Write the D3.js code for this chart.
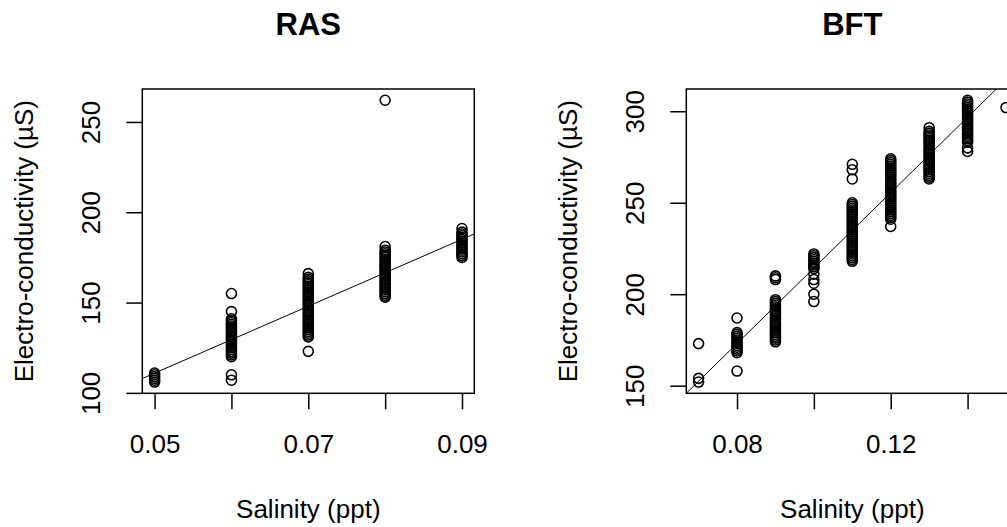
<!DOCTYPE html>
<html>
<head>
<meta charset="utf-8">
<script src="https://cdn.jsdelivr.net/npm/d3@7"></script>
<style>
  body { margin: 0; background: #fff; }
  svg { display: block; font-family: "Liberation Sans", Arial, sans-serif; }
</style>
</head>
<body>
<svg id="chart" width="1007" height="527"></svg>
<script>
// RAS: salinity levels and the EC readings taken at each one
const rasSalinity = [0.05, 0.06, 0.07, 0.08, 0.09];
const rasEC = [
  [106, 107, 108, 109, 110, 111],
  [107, 110, 120, 121, 122, 123, 124, 125, 126, 127, 128, 129, 130, 131, 132, 133, 134, 135,
   136, 137, 138, 139, 140, 141, 145, 155],
  [123, 131, 132, 133, 134, 135, 136, 137, 138, 139, 140, 141, 142, 143, 144, 145, 146, 147,
   148, 149, 150, 151, 152, 153, 154, 155, 156, 157, 158, 159, 160, 161, 162, 163, 164, 166],
  [153, 154, 155, 156, 157, 158, 159, 160, 161, 162, 163, 164, 165, 166, 167, 168, 169, 170,
   171, 172, 173, 174, 175, 176, 177, 178, 179, 181, 262],
  [175, 176, 177, 178, 179, 180, 181, 182, 183, 184, 185, 186, 187, 188, 189, 191]
];
const rasIntercept = 18.3;
const rasSlope = 1852.5;
const rasXTicks = [0.05, 0.06, 0.07, 0.08, 0.09];
const rasXLabels = ["0.05", "", "0.07", "", "0.09"];
const rasYTicks = [100, 150, 200, 250];

// BFT
const bftSalinity = [0.07, 0.08, 0.09, 0.10, 0.11, 0.12, 0.13, 0.14, 0.15];
const bftEC = [
  [152, 154, 173],
  [158, 168, 169, 170, 171, 172, 173, 174, 175, 176, 177, 178, 179, 187],
  [174, 175, 176, 177, 178, 179, 180, 181, 182, 183, 184, 185, 186, 187, 188, 189, 190, 191,
   192, 193, 194, 195, 196, 197, 208, 209, 210],
  [196, 200, 206, 208, 211, 214, 215, 216, 217, 218, 219, 220, 221, 222],
  [218, 219, 220, 221, 222, 223, 224, 225, 226, 227, 228, 229, 230, 231, 232, 233, 234, 235,
   236, 237, 238, 239, 240, 241, 242, 243, 244, 245, 246, 247, 248, 249, 250, 263, 268, 271],
  [237, 241, 242, 243, 244, 245, 246, 247, 248, 249, 250, 251, 252, 253, 254, 255, 256, 257,
   258, 259, 260, 261, 262, 263, 264, 265, 266, 267, 268, 269, 270, 271, 272, 273, 274],
  [263, 264, 265, 266, 267, 268, 269, 270, 271, 272, 273, 274, 275, 276, 277, 278, 279, 280,
   281, 282, 283, 284, 285, 286, 287, 288, 289, 291],
  [278, 280, 283, 284, 285, 286, 287, 288, 289, 290, 291, 292, 293, 294, 295, 296, 297, 298,
   299, 300, 301, 302, 303, 304, 305, 306],
  [302]
];
const bftIntercept = 8.2;
const bftSlope = 2061;
const bftXTicks = [0.08, 0.10, 0.12, 0.14];
const bftXLabels = ["0.08", "", "0.12", ""];
const bftYTicks = [150, 200, 250, 300];

const svg = d3.select("#chart");
const fontSize = 26;

// R-style range: data extent padded by 4%
function padded(ext) {
  const p = (ext[1] - ext[0]) * 0.04;
  return [ext[0] - p, ext[1] + p];
}

function drawPanel(offset, id, title, salinity, ec, intercept, slope, xTicks, xLabels, yTicks) {
  const left = offset + 142.3, right = offset + 474.3;
  const top = 89, bottom = 393.3;
  const cx = (left + right) / 2, cy = (top + bottom) / 2;

  const x = d3.scaleLinear().domain(padded(d3.extent(salinity))).range([left, right]);
  const y = d3.scaleLinear().domain(padded(d3.extent(ec.flat()))).range([bottom, top]);

  svg.append("clipPath").attr("id", id)
    .append("rect")
    .attr("x", left).attr("y", top)
    .attr("width", right - left).attr("height", bottom - top);

  // points
  const pts = [];
  salinity.forEach((s, i) => ec[i].forEach(v => pts.push([s, v])));
  svg.append("g").selectAll("circle")
    .data(pts)
    .enter()
    .append("circle")
    .attr("cx", d => x(d[0]))
    .attr("cy", d => y(d[1]))
    .attr("r", 5)
    .attr("fill", "none")
    .attr("stroke", "#000")
    .attr("stroke-width", 1.6);

  // fitted line
  const xd = x.domain();
  svg.append("line")
    .attr("clip-path", `url(#${id})`)
    .attr("x1", x(xd[0])).attr("y1", y(intercept + slope * xd[0]))
    .attr("x2", x(xd[1])).attr("y2", y(intercept + slope * xd[1]))
    .attr("stroke", "#000")
    .attr("stroke-width", 1);

  // box
  svg.append("rect")
    .attr("x", left).attr("y", top)
    .attr("width", right - left).attr("height", bottom - top)
    .attr("fill", "none")
    .attr("stroke", "#000")
    .attr("stroke-width", 1.5);

  // x axis
  const gx = svg.append("g")
    .attr("transform", `translate(0,${bottom})`)
    .call(d3.axisBottom(x).tickValues(xTicks).tickFormat((d, i) => xLabels[i]).tickSize(16).tickSizeOuter(0));
  gx.select(".domain").remove();
  gx.selectAll("line").attr("stroke", "#000").attr("stroke-width", 1.5);
  gx.selectAll("text")
    .attr("y", 60).attr("dy", null)
    .attr("fill", "#000")
    .style("font-size", fontSize + "px")
    .style("font-family", "'Liberation Sans', Arial, sans-serif");

  // y axis
  const gy = svg.append("g")
    .attr("transform", `translate(${left},0)`)
    .call(d3.axisLeft(y).tickValues(yTicks).tickSize(16).tickSizeOuter(0));
  gy.select(".domain").remove();
  gy.selectAll("line").attr("stroke", "#000").attr("stroke-width", 1.5);
  gy.selectAll("text")
    .attr("x", 0).attr("y", -42).attr("dy", null)
    .attr("transform", "rotate(-90)")
    .attr("text-anchor", "middle")
    .attr("fill", "#000")
    .style("font-size", fontSize + "px")
    .style("font-family", "'Liberation Sans', Arial, sans-serif");

  // title and labels
  svg.append("text")
    .attr("x", cx).attr("y", 35)
    .attr("text-anchor", "middle")
    .style("font-size", "31px")
    .style("font-weight", "bold")
    .text(title);

  svg.append("text")
    .attr("x", cx).attr("y", 518)
    .attr("text-anchor", "middle")
    .style("font-size", fontSize + "px")
    .text("Salinity (ppt)");

  svg.append("text")
    .attr("transform", `translate(${left - 109},${cy}) rotate(-90)`)
    .attr("text-anchor", "middle")
    .style("font-size", fontSize + "px")
    .text("Electro-conductivity (µS)");
}

drawPanel(0, "clip-ras", "RAS", rasSalinity, rasEC, rasIntercept, rasSlope, rasXTicks, rasXLabels, rasYTicks);
drawPanel(544, "clip-bft", "BFT", bftSalinity, bftEC, bftIntercept, bftSlope, bftXTicks, bftXLabels, bftYTicks);
</script>
</body>
</html>
